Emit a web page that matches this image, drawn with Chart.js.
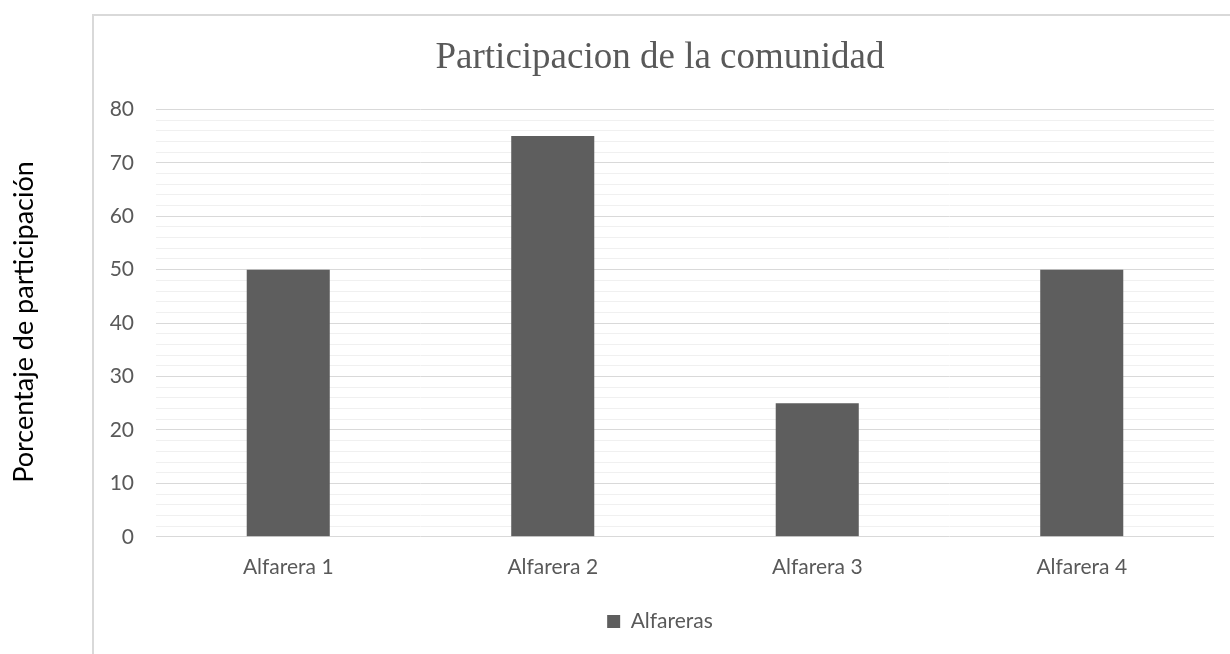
<!DOCTYPE html>
<html>
<head>
<meta charset="utf-8">
<script src="https://cdn.jsdelivr.net/npm/chart.js@4.4.0/dist/chart.umd.min.js"></script>
<style>
  html, body { margin: 0; padding: 0; background: #fff; }
  #wrap { width: 1230px; height: 654px; position: relative; }
</style>
</head>
<body>
<div id="wrap"><canvas id="partChart" width="1230" height="654"></canvas></div>
<script>
const categories = ['Alfarera 1', 'Alfarera 2', 'Alfarera 3', 'Alfarera 4'];
const alfareras = [50, 75, 25, 50];
const yTicks = [0, 10, 20, 30, 40, 50, 60, 70, 80];

const FONT = 'Lato';

// frame around the chart + y title sitting outside of it
const framePlugin = {
  id: 'frame',
  beforeDraw(chart) {
    const c = chart.ctx;
    c.save();
    c.strokeStyle = '#d9d9d9';
    c.lineWidth = 2;
    c.strokeRect(93, 15, 1200, 700);
    c.restore();
  },
  afterDraw(chart) {
    const c = chart.ctx;
    c.save();
    c.translate(24, 322);
    c.rotate(-Math.PI / 2);
    c.fillStyle = '#000';
    c.font = '27px ' + FONT;
    c.textAlign = 'center';
    c.textBaseline = 'middle';
    c.fillText('Porcentaje de participación', 0, 0);
    c.restore();
  }
};

const ctxPart = document.getElementById('partChart').getContext('2d');
new Chart(ctxPart, {
  type: 'bar',
  data: {
    labels: categories,
    datasets: [{
      label: 'Alfareras',
      data: alfareras,
      backgroundColor: '#5e5e5e',
      borderWidth: 0,
      categoryPercentage: 1,
      barPercentage: 0.314
    }]
  },
  options: {
    responsive: false,
    animation: false,
    layout: { padding: { left: 106, right: 16, top: 14, bottom: 12 } },
    plugins: {
      title: {
        display: true,
        text: 'Participacion de la comunidad',
        color: '#595959',
        font: { family: '"Liberation Serif"', size: 37, weight: 'normal' },
        padding: { top: 22, bottom: 29 }
      },
      legend: {
        position: 'bottom',
        labels: {
          color: '#595959',
          font: { family: FONT, size: 21 },
          boxWidth: 13,
          boxHeight: 13,
          padding: 21
        }
      },
      tooltip: { enabled: false }
    },
    scales: {
      x: {
        grid: { display: false },
        border: { display: false },
        ticks: {
          color: '#595959',
          font: { family: FONT, size: 21 },
          padding: 10
        }
      },
      y: {
        min: 0,
        max: 80,
        border: { display: false },
        afterFit(scale) { scale.width = 50; },
        grid: {
          drawTicks: false,
          lineWidth: 1,
          color: (ctx) => (yTicks.includes(ctx.tick.value) ? '#d9d9d9' : '#f0f0f0')
        },
        ticks: {
          stepSize: 2,
          autoSkip: false,
          padding: 22,
          color: '#595959',
          font: { family: FONT, size: 21 },
          callback: (v) => (yTicks.includes(v) ? v : '')
        }
      }
    }
  },
  plugins: [framePlugin]
});
</script>
</body>
</html>
